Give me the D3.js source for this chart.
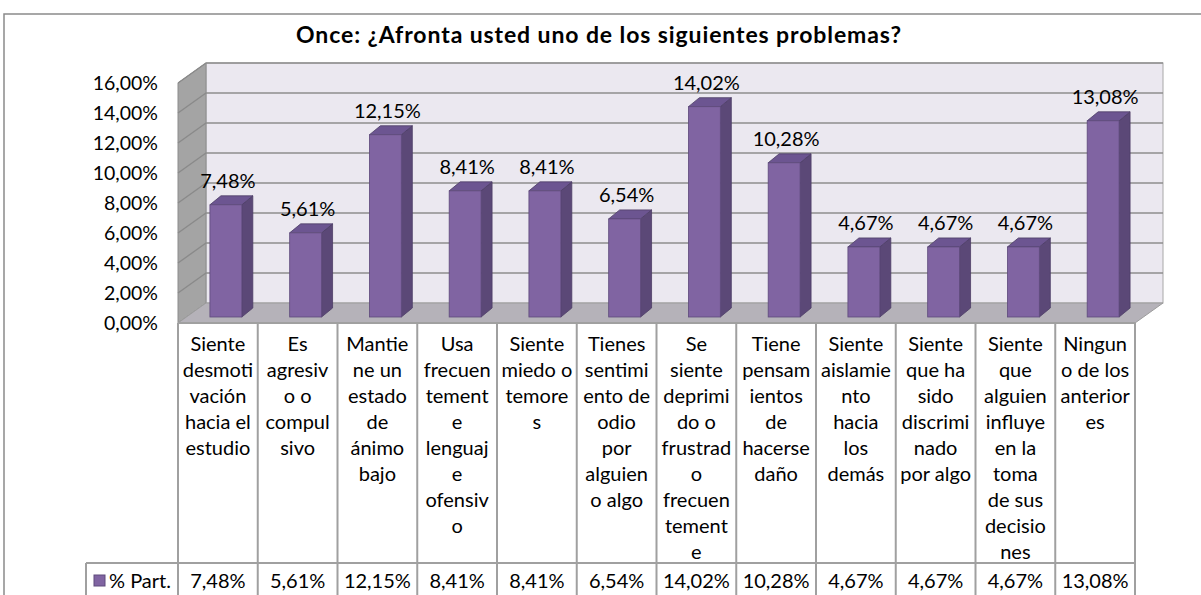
<!DOCTYPE html>
<html>
<head>
<meta charset="utf-8">
<script src="https://cdn.jsdelivr.net/npm/d3@7"></script>
<style>
  body { margin: 0; background: #fff; }
  svg { display: block; font-family: Lato, "Open Sans", sans-serif; }
</style>
</head>
<body>
<svg width="1201" height="595"></svg>
<script>
// data
var title = "Once: ¿Afronta usted uno de los siguientes problemas?";
var seriesName = "% Part.";
var categoryLines = [
  ["Siente", "desmoti", "vación", "hacia el", "estudio"],
  ["Es", "agresiv", "o o", "compul", "sivo"],
  ["Mantie", "ne un", "estado", "de", "ánimo", "bajo"],
  ["Usa", "frecuen", "tement", "e", "lenguaj", "e", "ofensiv", "o"],
  ["Siente", "miedo o", "temore", "s"],
  ["Tienes", "sentimi", "ento de", "odio", "por", "alguien", "o algo"],
  ["Se", "siente", "deprimi", "do o", "frustrad", "o", "frecuen", "tement", "e"],
  ["Tiene", "pensam", "ientos", "de", "hacerse", "daño"],
  ["Siente", "aislamie", "nto", "hacia", "los", "demás"],
  ["Siente", "que ha", "sido", "discrimi", "nado", "por algo"],
  ["Siente", "que", "alguien", "influye", "en la", "toma", "de sus", "decisio", "nes"],
  ["Ningun", "o de los", "anterior", "es"]
];
var categories = categoryLines.map(function(l) { return l.join(" "); });
var values = [0.0748, 0.0561, 0.1215, 0.0841, 0.0841, 0.0654, 0.1402, 0.1028, 0.0467, 0.0467, 0.0467, 0.1308];
var yTicks = [0, 0.02, 0.04, 0.06, 0.08, 0.10, 0.12, 0.14, 0.16];

var svg = d3.select("svg");

// spanish number format: 7,48%
var locale = d3.formatLocale({ decimal: ",", thousands: ".", grouping: [3], currency: ["", "€"] });
var pct = locale.format(".2%");

// front plane of the 3d box (window.top is read only, so own names)
var plotL = 178, plotR = 1135, plotB = 323, plotT = 83;
var depthX = 28, depthY = -20;   // back wall offset
var barOffX = 8, barOffY = -6;   // bar front plane inside the floor
var barDX = 11, barDY = -9;      // bar depth

var x = d3.scaleBand().domain(categories).range([plotL, plotR]).padding(0);
var y = d3.scaleLinear().domain([0, 0.16]).range([plotB, plotT]);

var gridCol = "#8e8e8e";
var fontSize = 20;

// outer chart border
svg.append("rect")
  .attr("x", 4).attr("y", 14)
  .attr("width", 1220).attr("height", 620)
  .attr("fill", "none")
  .attr("stroke", "#8a8a8a")
  .attr("stroke-width", 1.5);

// title
svg.append("text")
  .attr("x", 599).attr("y", 43)
  .attr("text-anchor", "middle")
  .style("font-weight", "bold")
  .style("font-size", "23px")
  .style("letter-spacing", "0.9px")
  .text(title);

// back wall
svg.append("rect")
  .attr("x", plotL + depthX).attr("y", plotT + depthY)
  .attr("width", plotR - plotL).attr("height", plotB - plotT)
  .attr("fill", "#ebe8f0")
  .attr("stroke", "#a8a8a8");

// side wall
svg.append("polygon")
  .attr("points", [[plotL, plotT], [plotL + depthX, plotT + depthY], [plotL + depthX, plotB + depthY], [plotL, plotB]].join(" "))
  .attr("fill", "#a4a4a4")
  .attr("stroke", "#8c8c8c");

// floor
svg.append("polygon")
  .attr("points", [[plotL, plotB], [plotL + depthX, plotB + depthY], [plotR + depthX, plotB + depthY], [plotR, plotB]].join(" "))
  .attr("fill", "#b5b2b9")
  .attr("stroke", "#9c9c9c");

// gridlines on back and side wall
var grid = svg.append("g");
grid.selectAll(".gb")
  .data(yTicks.slice(1))
  .enter().append("line")
    .attr("x1", plotL + depthX).attr("x2", plotR + depthX)
    .attr("y1", function(d) { return y(d) + depthY; })
    .attr("y2", function(d) { return y(d) + depthY; })
    .attr("stroke", gridCol)
    .attr("stroke-width", 1.6);
grid.selectAll(".gs")
  .data(yTicks.slice(1))
  .enter().append("line")
    .attr("x1", plotL).attr("x2", plotL + depthX)
    .attr("y1", function(d) { return y(d); })
    .attr("y2", function(d) { return y(d) + depthY; })
    .attr("stroke", "#8a8a8a")
    .attr("stroke-width", 1.4);

// y axis labels
var yAxis = d3.axisLeft(y).tickValues(yTicks).tickSize(0).tickPadding(20).tickFormat(pct);
var ga = svg.append("g")
  .attr("transform", "translate(" + plotL + ",0)")
  .call(yAxis);
ga.select(".domain").remove();
ga.selectAll("text")
  .style("font-family", "Lato, sans-serif")
  .style("font-size", "19.5px")
  .attr("fill", "#000");

// bars
var bw = x.bandwidth() * 0.4;
var bars = svg.append("g").selectAll("g")
  .data(values)
  .enter().append("g");

function bx(i) { return x(categories[i]) + (x.bandwidth() - bw) / 2 + barOffX; }

bars.append("polygon") // side
  .attr("points", function(d, i) {
    var x0 = bx(i) + bw, y0 = y(d) + barOffY, y1 = y(0) + barOffY;
    return [[x0, y0], [x0 + barDX, y0 + barDY], [x0 + barDX, y1 + barDY], [x0, y1]].join(" ");
  })
  .attr("fill", "#5b4877")
  .attr("stroke", "#4d3d66")
  .attr("stroke-width", 0.8);

bars.append("polygon") // top
  .attr("points", function(d, i) {
    var x0 = bx(i), y0 = y(d) + barOffY;
    return [[x0, y0], [x0 + barDX, y0 + barDY], [x0 + bw + barDX, y0 + barDY], [x0 + bw, y0]].join(" ");
  })
  .attr("fill", "#6c5591")
  .attr("stroke", "#4d3d66")
  .attr("stroke-width", 0.8);

bars.append("rect") // front
  .attr("x", function(d, i) { return bx(i); })
  .attr("y", function(d) { return y(d) + barOffY; })
  .attr("width", bw)
  .attr("height", function(d) { return y(0) - y(d); })
  .attr("fill", "#8064a2")
  .attr("stroke", "#5e4a7c")
  .attr("stroke-width", 0.8);

// data labels
bars.append("text")
  .attr("x", function(d, i) { return bx(i) + bw / 2 + 2; })
  .attr("y", function(d) { return y(d) + barOffY + barDY - 8; })
  .attr("text-anchor", "middle")
  .style("font-size", fontSize + "px")
  .text(function(d) { return pct(d); });

// data table below the chart
var tableCol = "#a0a0a0";
var rowTop = 563;
var table = svg.append("g");

table.selectAll(".vl")
  .data(d3.range(categories.length + 1))
  .enter().append("line")
    .attr("x1", function(i) { return plotL + i * x.bandwidth(); })
    .attr("x2", function(i) { return plotL + i * x.bandwidth(); })
    .attr("y1", plotB).attr("y2", 600)
    .attr("stroke", tableCol)
    .attr("stroke-width", 2);

table.append("line")
  .attr("x1", plotL).attr("x2", plotR)
  .attr("y1", plotB).attr("y2", plotB)
  .attr("stroke", tableCol).attr("stroke-width", 2);

table.append("line")
  .attr("x1", 86).attr("x2", plotR)
  .attr("y1", rowTop).attr("y2", rowTop)
  .attr("stroke", tableCol).attr("stroke-width", 2);

table.append("line")
  .attr("x1", 86).attr("x2", 86)
  .attr("y1", rowTop).attr("y2", 600)
  .attr("stroke", tableCol).attr("stroke-width", 2);

// category labels, one tspan per line
var cat = table.selectAll(".cat")
  .data(categoryLines)
  .enter().append("text")
    .attr("text-anchor", "middle")
    .style("font-size", fontSize + "px");
cat.selectAll("tspan")
  .data(function(d, i) { return d.map(function(s, j) { return { s: s, j: j, i: i }; }); })
  .enter().append("tspan")
    .attr("x", function(d) { return x(categories[d.i]) + x.bandwidth() / 2; })
    .attr("y", function(d) { return 351 + d.j * 26; })
    .text(function(d) { return d.s; });

// value row
table.selectAll(".val")
  .data(values)
  .enter().append("text")
    .attr("x", function(d, i) { return x(categories[i]) + x.bandwidth() / 2; })
    .attr("y", 588)
    .attr("text-anchor", "middle")
    .style("font-size", fontSize + "px")
    .text(function(d) { return pct(d); });

// legend key in the row header
table.append("rect")
  .attr("x", 94).attr("y", 575)
  .attr("width", 11).attr("height", 11)
  .attr("fill", "#8064a2")
  .attr("stroke", "#5e4a7c");
table.append("text")
  .attr("x", 109).attr("y", 588)
  .style("font-size", fontSize + "px")
  .text(seriesName);
</script>
</body>
</html>
